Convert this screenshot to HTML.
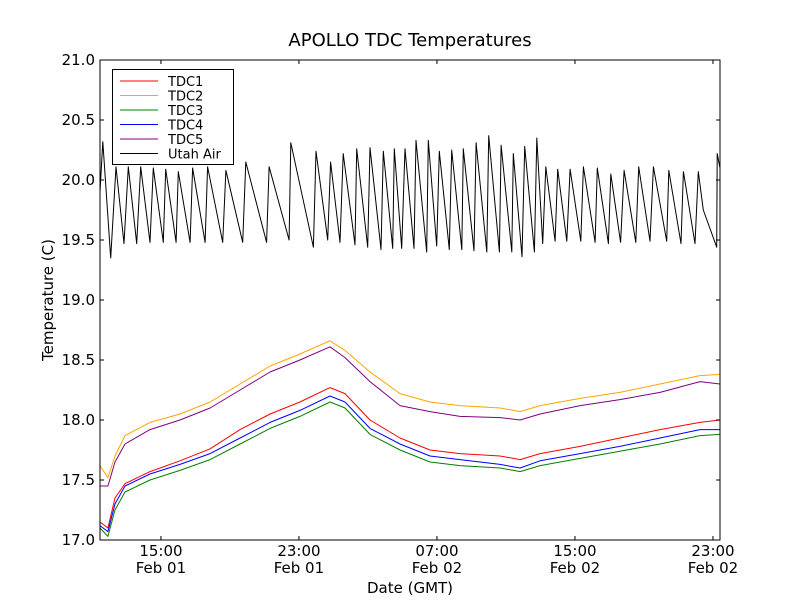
<!DOCTYPE html>
<html><head><meta charset="utf-8"><style>
body{margin:0;background:#fff;}
svg{display:block;font-family:"DejaVu Sans","Liberation Sans",sans-serif;}
</style></head><body>
<svg id="chart" width="800" height="600" viewBox="0 0 800 600">
<rect width="800" height="600" fill="#fff"/>
<text x="410" y="46" text-anchor="middle" font-size="18">APOLLO TDC Temperatures</text>
<g id="plot"></g>
<text x="410" y="593" text-anchor="middle" font-size="15">Date (GMT)</text>
<text transform="translate(53,300) rotate(-90)" text-anchor="middle" font-size="15">Temperature (C)</text>
</svg>
<script>
// hours since Feb 01 11:28 GMT
const smoothTimes=[0,0.46,0.87,1.45,2.90,4.64,6.38,8.12,9.86,11.59,13.33,14.20,15.65,17.39,19.13,20.87,23.19,24.35,25.51,27.83,30.14,32.46,34.78,35.94];
const tdc1=[17.15,17.10,17.35,17.47,17.57,17.66,17.76,17.92,18.05,18.15,18.27,18.22,18.00,17.85,17.75,17.72,17.70,17.67,17.72,17.78,17.85,17.92,17.98,18.00];
const tdc2=[17.62,17.52,17.70,17.87,17.98,18.05,18.15,18.30,18.45,18.55,18.66,18.58,18.40,18.22,18.15,18.12,18.10,18.07,18.12,18.18,18.23,18.30,18.37,18.38];
const tdc3=[17.10,17.03,17.25,17.40,17.50,17.58,17.67,17.80,17.93,18.03,18.15,18.10,17.88,17.75,17.65,17.62,17.60,17.57,17.62,17.68,17.74,17.80,17.87,17.88];
const tdc4=[17.12,17.07,17.30,17.45,17.55,17.63,17.72,17.85,17.98,18.08,18.20,18.15,17.93,17.80,17.70,17.67,17.63,17.60,17.66,17.72,17.78,17.85,17.92,17.92];
const tdc5=[17.45,17.45,17.65,17.80,17.92,18.00,18.10,18.25,18.40,18.50,18.61,18.52,18.32,18.12,18.07,18.03,18.02,18.00,18.05,18.12,18.17,18.23,18.32,18.30];
const airTimes=[0,0.16,0.62,0.93,1.39,1.64,2.13,2.36,2.90,3.09,3.67,3.81,4.41,4.54,5.22,5.37,6.09,6.24,7.11,7.30,8.27,8.45,9.66,9.80,10.96,11.06,12.37,12.52,13.20,13.37,13.91,14.10,14.78,14.88,15.52,15.65,16.29,16.42,16.97,17.06,17.49,17.68,18.20,18.32,18.94,19.03,19.52,19.67,20.25,20.39,20.97,21.06,21.68,21.80,22.42,22.53,23.15,23.25,23.87,23.96,24.46,24.62,25.18,25.32,25.66,25.84,26.38,26.53,27.06,27.25,27.87,28.02,28.70,28.83,29.47,29.61,30.18,30.38,31.06,31.23,31.88,32.08,32.85,32.97,33.68,33.82,34.49,34.68,34.97,35.75,35.78,35.94];
const utahAir=[19.90,20.32,19.35,20.11,19.47,20.11,19.47,20.11,19.48,20.10,19.48,20.09,19.48,20.07,19.48,20.10,19.48,20.11,19.48,20.08,19.48,20.15,19.48,20.11,19.50,20.31,19.44,20.24,19.50,20.15,19.48,20.22,19.46,20.26,19.44,20.27,19.42,20.24,19.43,20.26,19.43,20.26,19.43,20.33,19.40,20.33,19.45,20.24,19.42,20.25,19.42,20.26,19.41,20.31,19.40,20.37,19.40,20.29,19.40,20.22,19.36,20.28,19.40,20.35,19.47,20.11,19.49,20.09,19.49,20.09,19.49,20.11,19.48,20.10,19.47,20.05,19.48,20.08,19.48,20.11,19.49,20.11,19.49,20.08,19.47,20.07,19.47,20.07,19.75,19.44,20.22,20.10];
const yTicks=[17.0,17.5,18.0,18.5,19.0,19.5,20.0,20.5,21.0];
const xTickHours=[3.533,11.533,19.533,27.533,35.533];
const xTickTimes=["15:00","23:00","07:00","15:00","23:00"];
const xTickDates=["Feb 01","Feb 01","Feb 02","Feb 02","Feb 02"];
const seriesNames=["TDC1","TDC2","TDC3","TDC4","TDC5","Utah Air"];
const seriesColors=["#ff0000","#ffa500","#008000","#0000ff","#800080","#000000"];

const L=100,R=720,T=60,B=540,X0=0,X1=35.94,Y0=17,Y1=21;
const xs=h=>L+(h-X0)/(X1-X0)*(R-L);
const ys=v=>B-(v-Y0)/(Y1-Y0)*(B-T);
const NS="http://www.w3.org/2000/svg";
const g=document.getElementById('plot');
function mk(tag,attrs,parent){const e=document.createElementNS(NS,tag);for(const k in attrs)e.setAttribute(k,attrs[k]);(parent||g).appendChild(e);return e;}

const series=[[smoothTimes,tdc1],[smoothTimes,tdc2],[smoothTimes,tdc3],[smoothTimes,tdc4],[smoothTimes,tdc5],[airTimes,utahAir]];
series.forEach((s,i)=>{
  const d=s[0].map((t,j)=>(j?'L':'M')+xs(t).toFixed(1)+','+ys(s[1][j]).toFixed(1)).join('');
  const p=mk('path',{d:d,fill:'none',stroke:seriesColors[i],'stroke-width':1,'stroke-linejoin':'round'});
  
  
});

const frame=mk('rect',{x:L,y:T,width:R-L,height:B-T,fill:'none',stroke:'#000','stroke-width':1});



yTicks.forEach(v=>{
  const y=ys(v);
  mk('line',{x1:L,x2:L+4,y1:y,y2:y,stroke:'#000'});
  mk('line',{x1:R-4,x2:R,y1:y,y2:y,stroke:'#000'});
  const t=mk('text',{x:L-5,y:y+5,'text-anchor':'end','font-size':15});
  t.textContent=v.toFixed(1);
  
  
});
xTickHours.forEach((h,i)=>{
  const x=xs(h);
  mk('line',{x1:x,x2:x,y1:B,y2:B-4,stroke:'#000'});
  mk('line',{x1:x,x2:x,y1:T,y2:T+4,stroke:'#000'});
  const t=mk('text',{x:x,y:556,'text-anchor':'middle','font-size':15});
  t.textContent=xTickTimes[i];
  
  
  const t2=mk('text',{x:x,y:573,'text-anchor':'middle','font-size':15});
  t2.textContent=xTickDates[i];
  
  
});

const lg=mk('g',{});


mk('rect',{x:112.5,y:69.5,width:121,height:95,fill:'#fff',stroke:'#000'},lg);
seriesNames.forEach((n,i)=>{
  const y=81+i*14.5;
  const e=mk('g',{},lg);
  
  
  mk('line',{x1:120,x2:158,y1:y,y2:y,stroke:seriesColors[i],'stroke-width':1},e);
  const t=mk('text',{x:168,y:y+5,'font-size':13},e);
  t.textContent=n;
});
</script>
</body></html>
